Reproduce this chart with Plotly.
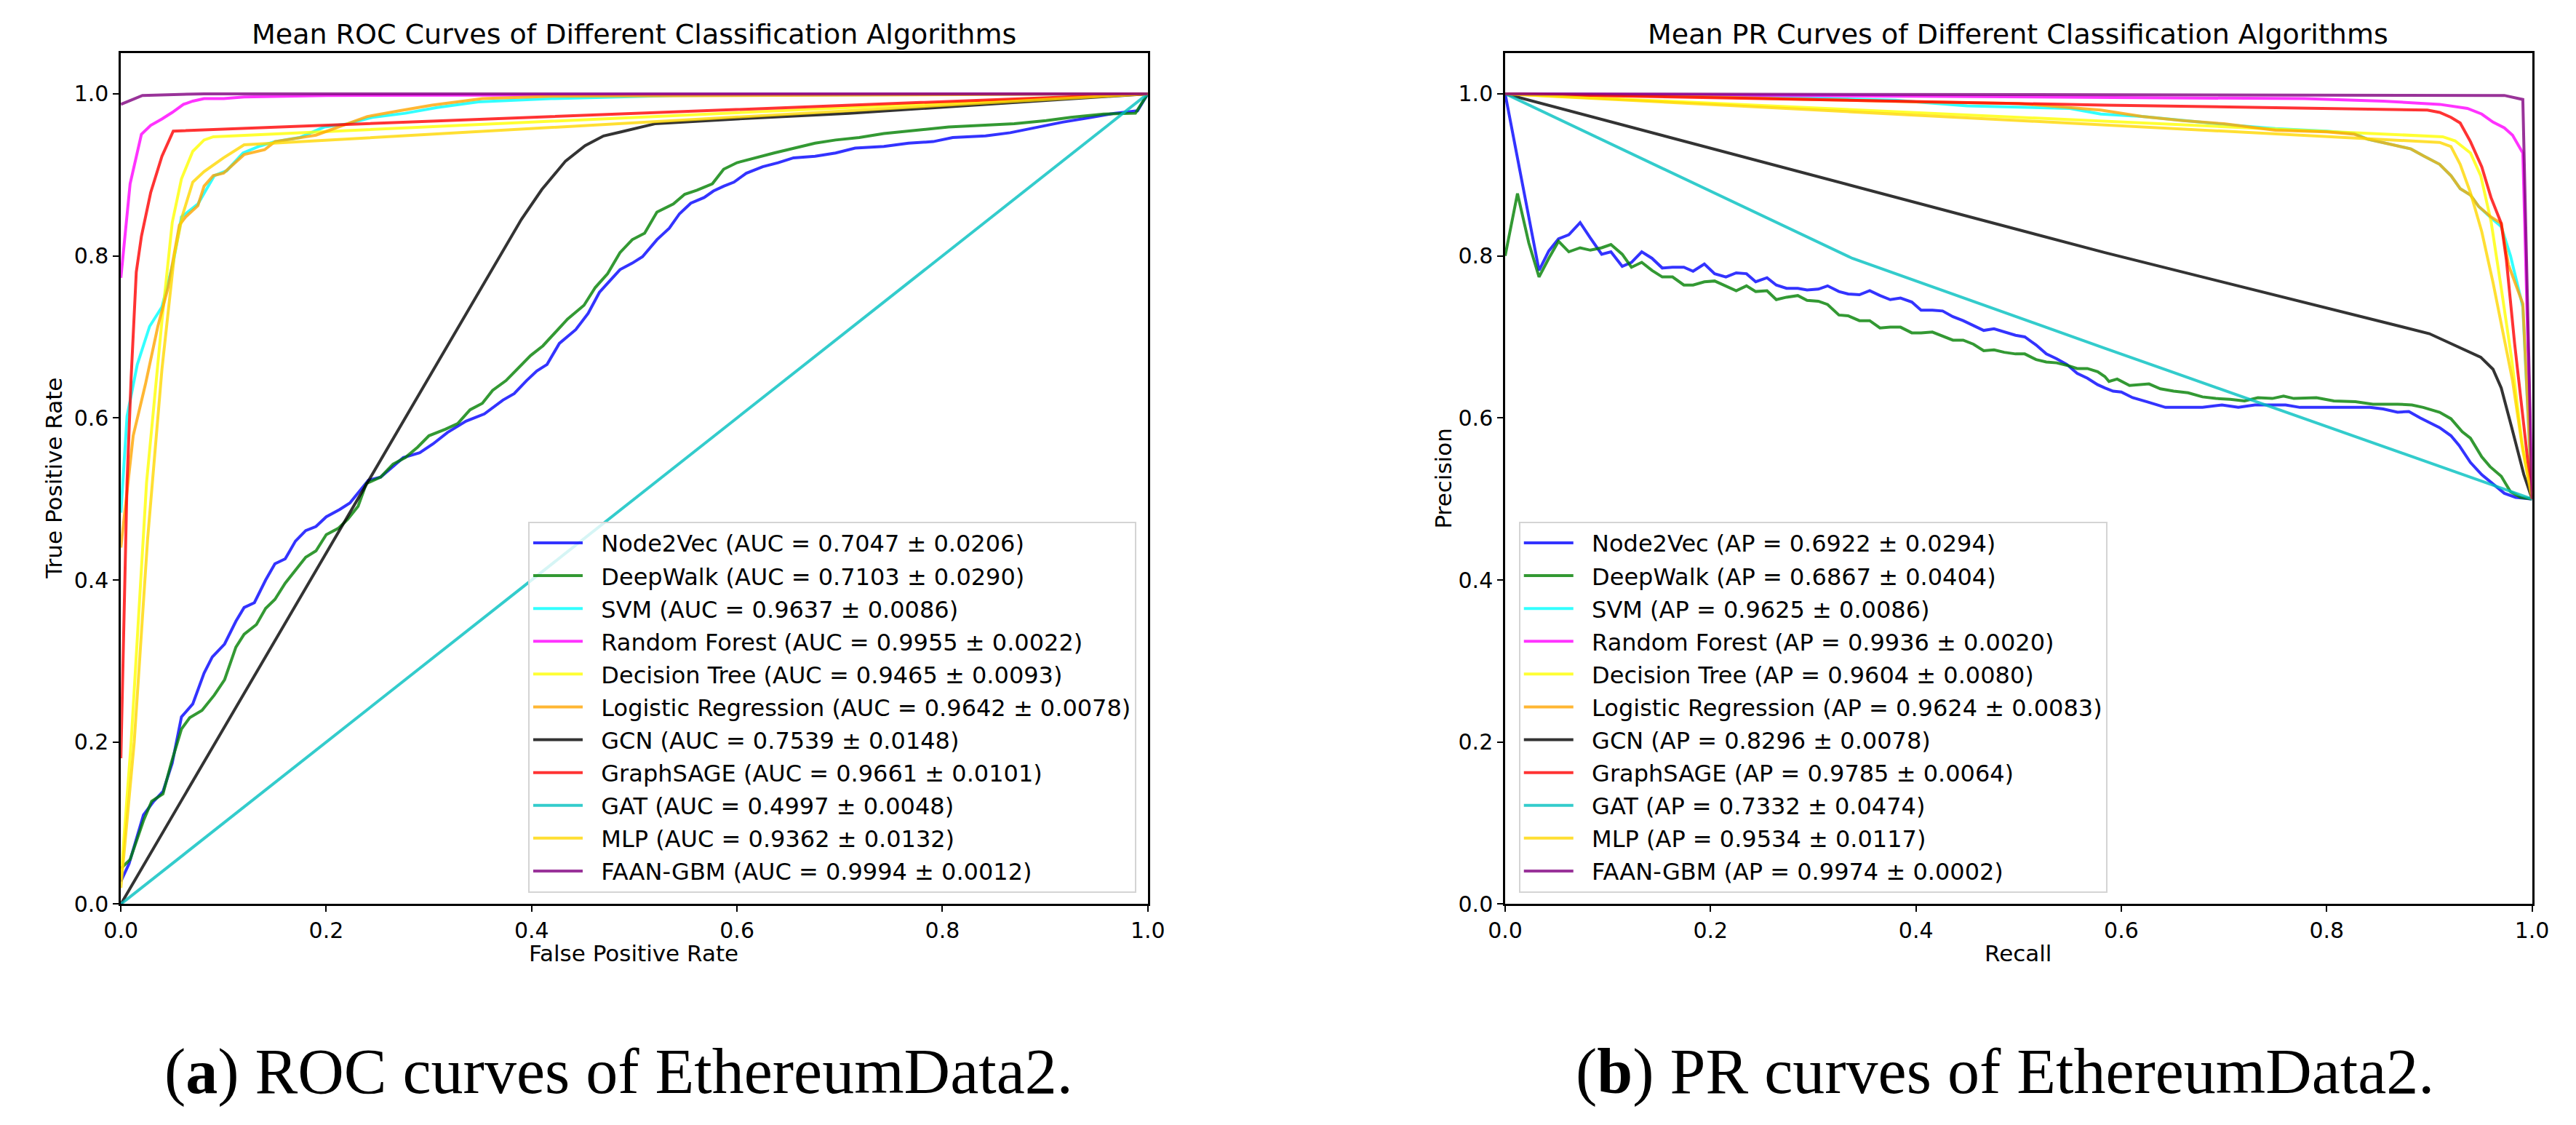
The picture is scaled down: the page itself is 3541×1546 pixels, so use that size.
import plotly.graph_objects as go

# ---- data ----
MODELS = ["Node2Vec", "DeepWalk", "SVM", "Random Forest", "Decision Tree",
          "Logistic Regression", "GCN", "GraphSAGE", "GAT", "MLP", "FAAN-GBM"]
COLORS = ["rgba(0,0,255,0.8)", "rgba(0,128,0,0.8)", "rgba(0,255,255,0.8)",
          "rgba(255,0,255,0.8)", "rgba(255,255,0,0.8)", "rgba(255,165,0,0.8)",
          "rgba(0,0,0,0.8)", "rgba(255,0,0,0.8)", "rgba(0,191,191,0.8)",
          "rgba(255,215,0,0.8)", "rgba(128,0,128,0.8)"]
AUC_MEAN = [0.7047, 0.7103, 0.9637, 0.9955, 0.9465, 0.9642, 0.7539, 0.9661, 0.4997, 0.9362, 0.9994]
AUC_STD = [0.0206, 0.0290, 0.0086, 0.0022, 0.0093, 0.0078, 0.0148, 0.0101, 0.0048, 0.0132, 0.0012]
AP_MEAN = [0.6922, 0.6867, 0.9625, 0.9936, 0.9604, 0.9624, 0.8296, 0.9785, 0.7332, 0.9534, 0.9974]
AP_STD = [0.0294, 0.0404, 0.0086, 0.0020, 0.0080, 0.0083, 0.0078, 0.0064, 0.0474, 0.0117, 0.0002]

# ROC curves: (false positive rate, true positive rate)
ROC_NODE2VEC = [(0, 0.028), (0.008, 0.05), (0.022, 0.11), (0.032, 0.127), (0.041, 0.139), (0.05, 0.174),
                (0.059, 0.231), (0.07, 0.247), (0.081, 0.285), (0.089, 0.305), (0.101, 0.321), (0.112, 0.349),
                (0.12, 0.366), (0.13, 0.372), (0.141, 0.4), (0.15, 0.42), (0.16, 0.426), (0.17, 0.448),
                (0.18, 0.461), (0.19, 0.466), (0.2, 0.478), (0.213, 0.487), (0.223, 0.495), (0.231, 0.507),
                (0.241, 0.523), (0.253, 0.527), (0.265, 0.54), (0.275, 0.551), (0.291, 0.557), (0.304, 0.568),
                (0.318, 0.582), (0.336, 0.596), (0.354, 0.605), (0.372, 0.622), (0.383, 0.63), (0.395, 0.646),
                (0.405, 0.658), (0.415, 0.666), (0.427, 0.692), (0.443, 0.709), (0.455, 0.729), (0.466, 0.755),
                (0.476, 0.769), (0.486, 0.783), (0.498, 0.791), (0.508, 0.799), (0.522, 0.82), (0.534, 0.834),
                (0.544, 0.852), (0.555, 0.865), (0.568, 0.872), (0.577, 0.88), (0.587, 0.886), (0.597, 0.891),
                (0.609, 0.902), (0.625, 0.91), (0.64, 0.915), (0.655, 0.921), (0.676, 0.923), (0.696, 0.927),
                (0.715, 0.933), (0.743, 0.935), (0.767, 0.939), (0.791, 0.941), (0.81, 0.946), (0.842, 0.948),
                (0.866, 0.952), (0.893, 0.959), (0.917, 0.965), (0.945, 0.971), (0.968, 0.976), (0.99, 0.979),
                (1.0, 1.0)]
ROC_DEEPWALK = [(0, 0.044), (0.009, 0.055), (0.022, 0.103), (0.03, 0.127), (0.041, 0.136), (0.049, 0.174),
                (0.059, 0.216), (0.067, 0.23), (0.079, 0.239), (0.091, 0.258), (0.101, 0.277), (0.112, 0.317),
                (0.12, 0.333), (0.132, 0.345), (0.141, 0.365), (0.15, 0.376), (0.16, 0.396), (0.17, 0.412),
                (0.18, 0.428), (0.19, 0.436), (0.2, 0.456), (0.212, 0.464), (0.221, 0.475), (0.231, 0.491),
                (0.239, 0.519), (0.253, 0.527), (0.265, 0.543), (0.277, 0.551), (0.289, 0.564), (0.3, 0.578),
                (0.316, 0.586), (0.328, 0.593), (0.34, 0.61), (0.352, 0.618), (0.362, 0.634), (0.375, 0.646),
                (0.387, 0.662), (0.399, 0.677), (0.411, 0.689), (0.423, 0.705), (0.435, 0.722), (0.451, 0.739),
                (0.462, 0.761), (0.474, 0.778), (0.486, 0.804), (0.498, 0.82), (0.51, 0.828), (0.522, 0.854),
                (0.538, 0.864), (0.549, 0.876), (0.561, 0.881), (0.576, 0.889), (0.587, 0.907), (0.6, 0.915),
                (0.617, 0.921), (0.636, 0.927), (0.656, 0.933), (0.676, 0.939), (0.696, 0.943), (0.719, 0.946),
                (0.743, 0.951), (0.775, 0.955), (0.806, 0.959), (0.838, 0.961), (0.87, 0.963), (0.901, 0.967),
                (0.925, 0.971), (0.957, 0.975), (0.988, 0.976), (1.0, 1.0)]
ROC_SVM = [(0, 0.483), (0.006, 0.602), (0.016, 0.666), (0.028, 0.713), (0.04, 0.737), (0.051, 0.792),
           (0.059, 0.848), (0.075, 0.864), (0.091, 0.899), (0.103, 0.905), (0.119, 0.927), (0.134, 0.935),
           (0.15, 0.941), (0.174, 0.946), (0.198, 0.959), (0.221, 0.963), (0.245, 0.971), (0.277, 0.976),
           (0.308, 0.983), (0.348, 0.99), (0.419, 0.994), (0.538, 0.998), (1.0, 1.0)]
ROC_RF = [(0, 0.773), (0.009, 0.889), (0.02, 0.95), (0.029, 0.961), (0.04, 0.969), (0.05, 0.977),
          (0.061, 0.987), (0.07, 0.991), (0.081, 0.994), (0.1, 0.994), (0.12, 0.996), (0.2, 0.998), (1.0, 1.0)]
ROC_DT = [(0, 0.03), (0.01, 0.2), (0.025, 0.52), (0.04, 0.72), (0.05, 0.841), (0.059, 0.895),
          (0.07, 0.929), (0.081, 0.943), (0.09, 0.947), (1.0, 1.0)]
ROC_LR = [(0, 0.44), (0.012, 0.578), (0.024, 0.642), (0.036, 0.713), (0.046, 0.761), (0.057, 0.838),
          (0.063, 0.848), (0.075, 0.862), (0.081, 0.886), (0.09, 0.899), (0.1, 0.902), (0.12, 0.925),
          (0.14, 0.931), (0.15, 0.941), (0.19, 0.949), (0.205, 0.956), (0.24, 0.972), (0.271, 0.979),
          (0.303, 0.986), (0.352, 0.994), (0.42, 0.997), (1.0, 1.0)]
ROC_GCN = [(0, 0), (0.39, 0.845), (0.41, 0.882), (0.424, 0.904), (0.433, 0.917), (0.452, 0.936),
           (0.47, 0.948), (0.487, 0.953), (0.52, 0.963), (0.6, 0.969), (0.709, 0.976), (1.0, 1.0)]
ROC_GRAPHSAGE = [(0, 0.18), (0.003, 0.35), (0.006, 0.52), (0.01, 0.65), (0.015, 0.78), (0.02, 0.824),
                 (0.029, 0.878), (0.04, 0.923), (0.051, 0.954), (1.0, 1.0)]
ROC_GAT = [(0, 0), (0.5, 0.5), (1.0, 1.0)]
ROC_MLP = [(0, 0.02), (0.013, 0.2), (0.026, 0.45), (0.04, 0.66), (0.052, 0.8), (0.06, 0.85),
           (0.07, 0.891), (0.081, 0.904), (0.1, 0.921), (0.12, 0.937), (1.0, 1.0)]
ROC_FAAN = [(0, 0.987), (0.021, 0.998), (0.081, 1.0), (1.0, 1.0)]

# PR curves: (recall, precision)
PR_NODE2VEC = [(0, 1.0), (0.033, 0.782), (0.0425, 0.806), (0.052, 0.821), (0.062, 0.826), (0.073, 0.841),
               (0.083, 0.822), (0.094, 0.802), (0.103, 0.805), (0.114, 0.787), (0.123, 0.792), (0.133, 0.805),
               (0.143, 0.797), (0.153, 0.785), (0.163, 0.786), (0.174, 0.786), (0.183, 0.781), (0.194, 0.79),
               (0.204, 0.778), (0.215, 0.774), (0.225, 0.779), (0.235, 0.778), (0.244, 0.768), (0.255, 0.773),
               (0.264, 0.764), (0.274, 0.76), (0.285, 0.76), (0.294, 0.758), (0.305, 0.759), (0.314, 0.763),
               (0.325, 0.756), (0.334, 0.753), (0.345, 0.752), (0.355, 0.757), (0.365, 0.751), (0.375, 0.746),
               (0.385, 0.748), (0.396, 0.743), (0.405, 0.733), (0.416, 0.733), (0.426, 0.732), (0.436, 0.725),
               (0.446, 0.72), (0.456, 0.714), (0.466, 0.708), (0.476, 0.71), (0.486, 0.706), (0.497, 0.702),
               (0.506, 0.7), (0.517, 0.69), (0.527, 0.679), (0.537, 0.673), (0.547, 0.666), (0.557, 0.655),
               (0.567, 0.649), (0.577, 0.641), (0.584, 0.637), (0.592, 0.633), (0.6, 0.632), (0.611, 0.625),
               (0.625, 0.62), (0.643, 0.613), (0.679, 0.613), (0.698, 0.616), (0.714, 0.613), (0.73, 0.616),
               (0.76, 0.616), (0.774, 0.613), (0.815, 0.613), (0.842, 0.613), (0.855, 0.611), (0.869, 0.607),
               (0.88, 0.608), (0.891, 0.6), (0.91, 0.588), (0.921, 0.578), (0.929, 0.566), (0.94, 0.545),
               (0.951, 0.53), (0.962, 0.518), (0.973, 0.507), (0.984, 0.502), (1.0, 0.5)]
PR_DEEPWALK = [(0, 0.8), (0.012, 0.877), (0.023, 0.816), (0.033, 0.774), (0.0425, 0.797), (0.052, 0.818),
               (0.062, 0.805), (0.073, 0.81), (0.083, 0.807), (0.094, 0.81), (0.103, 0.814), (0.114, 0.802),
               (0.123, 0.786), (0.133, 0.792), (0.143, 0.782), (0.153, 0.774), (0.163, 0.774), (0.174, 0.764),
               (0.183, 0.764), (0.194, 0.768), (0.204, 0.769), (0.215, 0.763), (0.225, 0.757), (0.235, 0.763),
               (0.244, 0.756), (0.255, 0.757), (0.264, 0.746), (0.274, 0.749), (0.285, 0.751), (0.294, 0.745),
               (0.305, 0.744), (0.314, 0.74), (0.325, 0.727), (0.334, 0.726), (0.345, 0.72), (0.355, 0.72),
               (0.365, 0.711), (0.375, 0.712), (0.385, 0.712), (0.396, 0.705), (0.405, 0.705), (0.416, 0.706),
               (0.426, 0.701), (0.436, 0.696), (0.446, 0.696), (0.456, 0.691), (0.466, 0.683), (0.476, 0.684),
               (0.486, 0.681), (0.497, 0.679), (0.506, 0.679), (0.517, 0.672), (0.527, 0.669), (0.537, 0.668),
               (0.547, 0.665), (0.557, 0.661), (0.567, 0.661), (0.577, 0.657), (0.584, 0.651), (0.588, 0.645),
               (0.596, 0.648), (0.608, 0.64), (0.627, 0.642), (0.638, 0.636), (0.651, 0.633), (0.665, 0.631),
               (0.679, 0.626), (0.692, 0.624), (0.706, 0.623), (0.72, 0.621), (0.733, 0.625), (0.747, 0.624),
               (0.758, 0.627), (0.768, 0.624), (0.79, 0.625), (0.807, 0.621), (0.828, 0.62), (0.845, 0.617),
               (0.869, 0.617), (0.883, 0.616), (0.894, 0.613), (0.91, 0.607), (0.921, 0.599), (0.932, 0.583),
               (0.94, 0.575), (0.951, 0.552), (0.959, 0.54), (0.97, 0.528), (0.979, 0.509), (0.989, 0.502),
               (1.0, 0.5)]
PR_SVM = [(0, 1.0), (0.1, 0.999), (0.2, 0.997), (0.3, 0.995), (0.38, 0.992), (0.45, 0.985), (0.55, 0.982),
          (0.58, 0.975), (0.62, 0.972), (0.66, 0.967), (0.71, 0.961), (0.75, 0.957), (0.8, 0.954),
          (0.827, 0.951), (0.84, 0.944), (0.868, 0.936), (0.882, 0.932), (0.895, 0.923), (0.91, 0.913),
          (0.921, 0.899), (0.93, 0.883), (0.94, 0.875), (0.948, 0.861), (0.96, 0.847), (0.97, 0.836),
          (0.979, 0.8), (0.991, 0.737), (1.0, 0.5)]
PR_RF = [(0, 1.0), (0.58, 0.996), (0.778, 0.994), (0.855, 0.991), (0.91, 0.987), (0.937, 0.982),
         (0.951, 0.975), (0.962, 0.965), (0.973, 0.958), (0.981, 0.949), (0.991, 0.927), (1.0, 0.5)]
PR_DT = [(0, 1.0), (0.913, 0.947), (0.925, 0.942), (0.94, 0.927), (0.95, 0.899), (0.96, 0.843),
         (0.97, 0.76), (0.98, 0.674), (0.99, 0.571), (1.0, 0.5)]
PR_LR = [(0, 1.0), (0.1, 0.998), (0.2, 0.996), (0.3, 0.993), (0.4, 0.99), (0.5, 0.988), (0.58, 0.98),
         (0.62, 0.972), (0.66, 0.967), (0.7, 0.963), (0.75, 0.955), (0.8, 0.953), (0.827, 0.95),
         (0.84, 0.944), (0.868, 0.936), (0.882, 0.932), (0.895, 0.923), (0.91, 0.913), (0.921, 0.899),
         (0.93, 0.883), (0.94, 0.875), (0.948, 0.861), (0.96, 0.848), (0.97, 0.84), (0.977, 0.789),
         (0.991, 0.741), (1.0, 0.5)]
PR_GCN = [(0, 1.0), (0.584, 0.804), (0.9, 0.704), (0.95, 0.675), (0.962, 0.66), (0.97, 0.637),
          (0.98, 0.589), (0.992, 0.53), (1.0, 0.5)]
PR_GRAPHSAGE = [(0, 1.0), (0.3, 0.993), (0.584, 0.986), (0.898, 0.98), (0.91, 0.977), (0.921, 0.971),
                (0.93, 0.964), (0.94, 0.941), (0.951, 0.91), (0.96, 0.872), (0.97, 0.84), (0.975, 0.795),
                (0.983, 0.692), (1.0, 0.5)]
PR_GAT = [(0, 1.0), (0.338, 0.797), (0.584, 0.686), (1.0, 0.5)]
PR_MLP = [(0, 1.0), (0.91, 0.94), (0.921, 0.935), (0.93, 0.913), (0.94, 0.878), (0.951, 0.83),
          (0.962, 0.767), (0.97, 0.715), (0.981, 0.646), (0.991, 0.56), (1.0, 0.5)]
PR_FAAN = [(0, 1.0), (0.5, 0.999), (0.973, 0.998), (0.991, 0.993), (1.0, 0.5)]

ROC_CURVES = [ROC_NODE2VEC, ROC_DEEPWALK, ROC_SVM, ROC_RF, ROC_DT, ROC_LR,
              ROC_GCN, ROC_GRAPHSAGE, ROC_GAT, ROC_MLP, ROC_FAAN]
PR_CURVES = [PR_NODE2VEC, PR_DEEPWALK, PR_SVM, PR_RF, PR_DT, PR_LR,
             PR_GCN, PR_GRAPHSAGE, PR_GAT, PR_MLP, PR_FAAN]

TICKS = [0, 0.2, 0.4, 0.6, 0.8, 1.0]
FONT = "DejaVu Sans"
PAD = "\u00a0\u00a0"  # gap between legend line and label, as in matplotlib

fig = go.Figure()

for i, name in enumerate(MODELS):
    fx, fy = zip(*ROC_CURVES[i])
    fig.add_trace(go.Scatter(
        x=fx, y=fy, mode="lines", xaxis="x", yaxis="y",
        line=dict(color=COLORS[i], width=4),
        name=f"{PAD}{name} (AUC = {AUC_MEAN[i]:.4f} ± {AUC_STD[i]:.4f})",
        legend="legend", legendgroup=f"roc{i}"))

for i, name in enumerate(MODELS):
    rx, ry = zip(*PR_CURVES[i])
    fig.add_trace(go.Scatter(
        x=rx, y=ry, mode="lines", xaxis="x2", yaxis="y2",
        line=dict(color=COLORS[i], width=4),
        name=f"{PAD}{name} (AP = {AP_MEAN[i]:.4f} ± {AP_STD[i]:.4f})",
        legend="legend2", legendgroup=f"pr{i}"))

axis_style = dict(range=[0, 1], tickvals=TICKS, tickformat=".1f", showgrid=False, zeroline=False,
                  showline=True, linecolor="black", linewidth=2.5, mirror=True,
                  ticks="outside", ticklen=8, tickwidth=2, tickcolor="black",
                  tickfont=dict(family=FONT, size=30, color="black"))
yaxis_style = dict(axis_style, range=[0, 1.05])

legend_style = dict(font=dict(family=FONT, size=32, color="black"),
                    bgcolor="rgba(255,255,255,0.8)", bordercolor="#d4d4d4", borderwidth=2,
                    tracegroupgap=0.5, itemwidth=68, yanchor="bottom")

W, H = 3541, 1546
fig.update_layout(
    width=W, height=H, margin=dict(l=0, r=0, t=0, b=0),
    paper_bgcolor="white", plot_bgcolor="white",
    xaxis=dict(axis_style, domain=[136 / W, 1567 / W], anchor="y"),
    yaxis=dict(yaxis_style, domain=[1 - 1249 / H, 1 - 66 / H], anchor="x"),
    xaxis2=dict(axis_style, domain=[2065 / W, 3496 / W], anchor="y2"),
    yaxis2=dict(yaxis_style, domain=[1 - 1249 / H, 1 - 66 / H], anchor="x2"),
    legend=dict(legend_style, x=1551 / W, xanchor="right", y=1 - 1233 / H),
    legend2=dict(legend_style, x=2084 / W, xanchor="left", y=1 - 1233 / H),
    showlegend=True,
)

texts = [
    ("Mean ROC Curves of Different Classification Algorithms", 851 / W, 1 - 39 / H, 38, 0),
    ("Mean PR Curves of Different Classification Algorithms", 2780 / W, 1 - 39 / H, 38, 0),
    ("False Positive Rate", 851 / W, 1 - 1317 / H, 31, 0),
    ("Recall", 2780 / W, 1 - 1317 / H, 31, 0),
    ("True Positive Rate", 43 / W, 1 - 657 / H, 31, -90),
    ("Precision", 1979 / W, 1 - 657 / H, 31, -90),
]
for t, x, y, s, ang in texts:
    fig.add_annotation(text=t, x=x, y=y, xref="paper", yref="paper", showarrow=False,
                       xanchor="center", yanchor="middle", textangle=ang,
                       font=dict(family=FONT, size=s, color="black"))

captions = [("(<b>a</b>) ROC curves of EthereumData2.", 830 / W),
            ("(<b>b</b>) PR curves of EthereumData2.", 2761 / W)]
for t, x in captions:
    fig.add_annotation(text=t, x=x, y=1 - 1482 / H, xref="paper", yref="paper", showarrow=False,
                       xanchor="center", yanchor="middle",
                       font=dict(family="Liberation Serif", size=88, color="black"))

fig.write_html("out.html")
